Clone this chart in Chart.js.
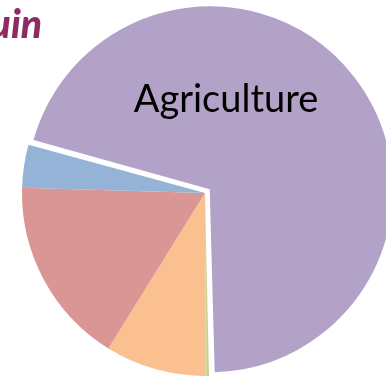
<!DOCTYPE html>
<html>
<head>
<meta charset="utf-8">
<script src="https://cdn.jsdelivr.net/npm/chart.js@4"></script>
<style>
  html, body { margin: 0; padding: 0; background: #ffffff; overflow: hidden; }
  #wrap { position: relative; width: 386px; height: 376px; }
</style>
</head>
<body>
<div id="wrap"><canvas id="pie" width="386" height="376"></canvas></div>
<script>
// Water use by sector (share of total, %)
const categories = ['Agriculture', 'Livestock', 'Energy', 'Industry', 'Domestic'];
const shares = [70.4, 0.3, 8.9, 16.6, 3.8];
const sliceColors = ['#B3A2C7', '#C3D69B', '#FAC090', '#D99694', '#95B3D7'];
const titleText = 'uin';
const sliceLabel = 'Agriculture';

const EXPLODE = 24; // arc "offset" option; Chart.js moves the slice by offset / 4

// Keep the pulled-out slice the same radius as the rest of the pie
const keepRadius = {
  id: 'keepRadius',
  beforeDatasetsDraw(chart) {
    const meta = chart.getDatasetMeta(0);
    const r = meta.controller.outerRadius;
    meta.data.forEach((arc) => {
      const off = (arc.options.offset || 0) / 4;
      arc.outerRadius = r - off;
    });
  }
};

// Heading fragment and in-slice category label
const texts = {
  id: 'texts',
  afterDatasetsDraw(chart) {
    const ctx = chart.ctx;
    ctx.save();
    ctx.fillStyle = '#8E2C62';
    ctx.font = 'italic 900 39px Lato';
    ctx.textAlign = 'right';
    ctx.textBaseline = 'alphabetic';
    ctx.fillText(titleText, 42, 38);

    ctx.fillStyle = '#000000';
    ctx.font = '38px Lato';
    ctx.textAlign = 'center';
    ctx.fillText(sliceLabel, 226, 112);
    ctx.restore();
  }
};

new Chart(document.getElementById('pie'), {
  type: 'pie',
  data: {
    labels: categories,
    datasets: [{
      data: shares,
      backgroundColor: sliceColors,
      borderWidth: 0,
      offset: categories.map((c, i) => i === 0 ? EXPLODE : 0)
    }]
  },
  options: {
    responsive: false,
    animation: false,
    rotation: 285.3,
    radius: 183,
    layout: { padding: { left: 24, top: 10, right: 0, bottom: 0 } },
    plugins: {
      legend: { display: false },
      tooltip: { enabled: false },
      title: { display: false }
    },
    events: []
  },
  plugins: [keepRadius, texts]
});
</script>
</body>
</html>
